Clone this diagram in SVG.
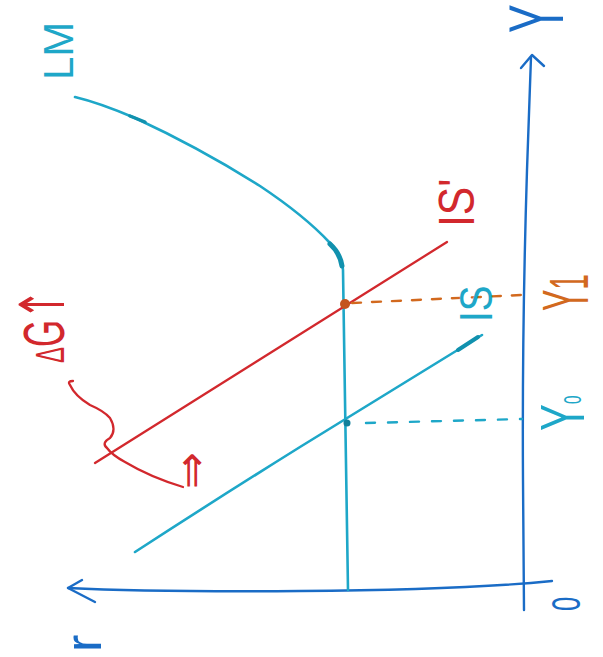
<svg xmlns="http://www.w3.org/2000/svg" width="603" height="657" viewBox="0 0 603 657">
<style>
.ax{fill:none;stroke:#1a6cc6;stroke-width:2.4;stroke-linecap:round;stroke-linejoin:round}
.cy{fill:none;stroke:#1ea7c8;stroke-width:2.6;stroke-linecap:round;stroke-linejoin:round}
.rd{fill:none;stroke:#d2282d;stroke-width:2.3;stroke-linecap:round;stroke-linejoin:round}
.dsh{fill:none;stroke-width:2.4;stroke-linecap:round}
text{font-family:"Liberation Sans",Arial,sans-serif}
.sym{font-family:"DejaVu Sans",sans-serif}
</style>
<rect width="603" height="657" fill="#ffffff"/>
<g id="connectors">
  <g id="y-axis">
    <path class="ax" d="M524,610 L523,480 Q522,330 527,170 L531,57"/>
    <path class="ax" d="M521,68 L532,55 L544,66"/>
  </g>
  <g id="r-axis">
    <path class="ax" d="M552,581 Q460,590 300,591 Q150,592 68,588"/>
    <path class="ax" d="M82,580 L68,588 L95,602"/>
  </g>
  <g id="LM-curve">
    <path class="cy" d="M75,97 Q100,103 135,118 Q200,148 260,186 Q305,216 330,243 Q342,255 343,270 L345,400 L348,590"/>
    <path fill="none" stroke="#1191ae" stroke-width="5" stroke-linecap="round" d="M330,244 Q340,253 342,266"/>
    <path fill="none" stroke="#1191ae" stroke-width="3.5" stroke-linecap="round" d="M130,116 L145,122"/>
  </g>
  <g id="IS-prime-line">
    <path class="rd" d="M95,463 L447,242"/>
  </g>
  <g id="IS-line">
    <path class="cy" d="M135,552 Q215,500 300,447 L482,335"/>
    <path fill="none" stroke="#1191ae" stroke-width="4" stroke-linecap="round" d="M458,350 L478,337"/>
  </g>
  <g id="Y1-dashed">
    <path class="dsh" stroke="#d2691e" stroke-dasharray="9 11" d="M352,303 L522,295"/>
  </g>
  <g id="Y0-dashed">
    <path class="dsh" stroke="#1ea7c8" stroke-dasharray="9 13" d="M366,423 L522,419"/>
  </g>
  <g id="shift-curve">
    <path class="rd" d="M73,381 Q67,381 70,385 Q75,396 90,405 Q104,411 110,418 Q117,430 110,438 Q101,443 107,448 Q112,455 125,462 Q150,477 183,487"/>
  </g>
</g>
<g id="eq1"><circle cx="345" cy="304" r="5" fill="#c4551e"/></g>
<g id="eq0"><circle cx="347" cy="423" r="3.5" fill="#10809b"/></g>
<g id="label-LM"><text transform="translate(73,80) rotate(-90)" font-size="42" fill="#1ea7c8">LM</text></g>
<g id="label-Y"><text transform="translate(563,33) rotate(-90) scale(0.55,1)" font-size="78" fill="#1a6cc6">Y</text></g>
<g id="label-ISp"><text transform="translate(474,227) rotate(-90) scale(0.85,1)" font-size="50" fill="#d2282d">IS'</text></g>
<g id="label-IS"><text transform="translate(492,322) rotate(-90) scale(0.82,1)" font-size="47" fill="#1ea7c8">IS</text></g>
<g id="label-Y1"><text transform="translate(588,311) rotate(-90) scale(0.5,1)" font-size="64" fill="#d2691e">Y<tspan font-size="56">1</tspan></text></g>
<g id="label-Y0"><text transform="translate(584,431) rotate(-90) scale(0.64,1)" font-size="63" fill="#1ea7c8">Y<tspan font-size="24" dy="-3">0</tspan></text></g>
<g id="label-dG"><text transform="translate(64,363) rotate(-90) scale(0.6,1)" fill="#d2282d"><tspan font-size="40">Δ</tspan><tspan font-size="58">G</tspan><tspan class="sym" font-size="62">↑</tspan></text></g>
<g id="label-shift"><text class="sym" transform="translate(206,489) rotate(-90)" font-size="44" fill="#d2282d">⇒</text></g>
<g id="label-origin"><text transform="translate(580,611) rotate(-90) scale(0.64,1)" font-size="40" fill="#1a6cc6">0</text></g>
<g id="label-r"><text transform="translate(101,652) rotate(-90)" font-size="52" fill="#1a6cc6">r</text></g>
</svg>
